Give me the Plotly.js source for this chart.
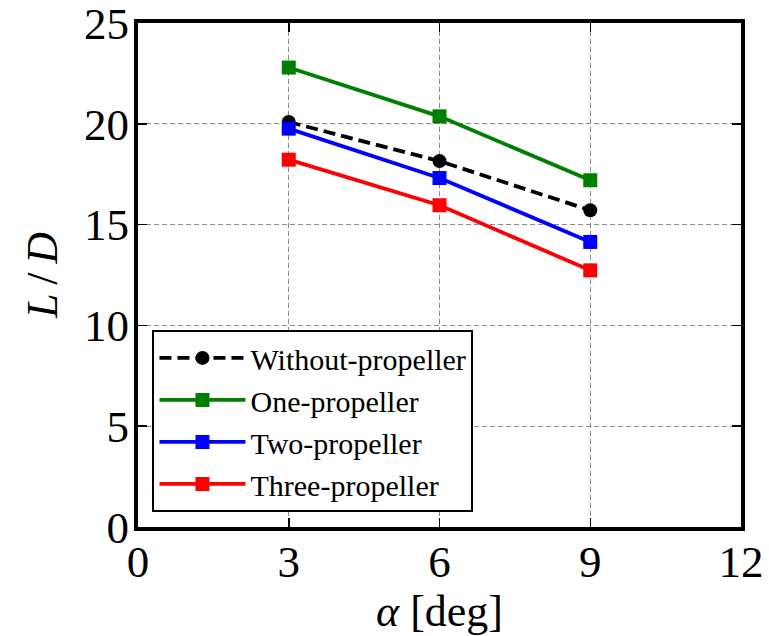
<!DOCTYPE html>
<html>
<head>
<meta charset="utf-8">
<script src="https://cdn.plot.ly/plotly-3.0.1.min.js"></script>
<style>html,body{margin:0;padding:0;background:#fff;}#chart{width:769px;height:636px;}</style>
</head>
<body>
<div id="chart"></div>
<script>
const alpha = [3, 6, 9];
const withoutProp = [20.09, 18.15, 15.71];
const oneProp = [22.79, 20.37, 17.2];
const twoProp = [19.76, 17.31, 14.14];
const threeProp = [18.22, 15.96, 12.73];
const xTicks = [0, 3, 6, 9, 12];
const yTicks = [0, 5, 10, 15, 20, 25];

const FONT = "Liberation Serif";

const traces = [
  {x: alpha, y: withoutProp, name: 'Without-propeller', mode: 'lines+markers',
   line: {color: 'black', width: 3.8, dash: '12px,6px'},
   marker: {symbol: 'circle', size: 14, color: 'black'}},
  {x: alpha, y: oneProp, name: 'One-propeller', mode: 'lines+markers',
   line: {color: 'green', width: 3.8},
   marker: {symbol: 'square', size: 14, color: 'green'}},
  {x: alpha, y: twoProp, name: 'Two-propeller', mode: 'lines+markers',
   line: {color: 'blue', width: 3.8},
   marker: {symbol: 'square', size: 14, color: 'blue'}},
  {x: alpha, y: threeProp, name: 'Three-propeller', mode: 'lines+markers',
   line: {color: 'red', width: 3.8},
   marker: {symbol: 'square', size: 14, color: 'red'}}
];

const axisCommon = {
  showline: true, linecolor: 'black', linewidth: 4, mirror: 'ticks',
  ticks: 'inside', ticklen: 9, tickwidth: 1.5, tickcolor: 'black',
  showgrid: true, gridcolor: '#8a8a8a', gridwidth: 1, griddash: '5px,3px',
  zeroline: false, ticklabeloverflow: 'allow',
  tickfont: {family: FONT, size: 45, color: 'black'}
};

const layout = {
  width: 769, height: 636,
  margin: {l: 138, r: 28, t: 23, b: 109},
  paper_bgcolor: 'white', plot_bgcolor: 'white',
  font: {family: FONT, color: 'black'},
  showlegend: true,
  xaxis: Object.assign({}, axisCommon, {
    range: [0, 12], tickvals: xTicks, ticktext: xTicks.map(String),
    ticklabelstandoff: -8,
    title: {text: '<i>α</i> [deg]', font: {family: FONT, size: 44, color: 'black'}, standoff: 14}
  }),
  yaxis: Object.assign({}, axisCommon, {
    range: [0, 25], tickvals: yTicks, ticktext: yTicks.map(String),
    ticklabelstandoff: -4,
    title: {text: '<i>L</i>\u2009/\u2009<i>D</i>', font: {family: FONT, size: 44, color: 'black'}, standoff: 14}
  }),
  legend: {
    x: 0.024, y: 0.03, xanchor: 'left', yanchor: 'bottom',
    bgcolor: 'white', bordercolor: 'black', borderwidth: 2,
    itemwidth: 86,
    font: {family: FONT, size: 30, color: 'black'}
  }
};

Plotly.newPlot('chart', traces, layout, {displayModeBar: false, staticPlot: true});
</script>
</body>
</html>
